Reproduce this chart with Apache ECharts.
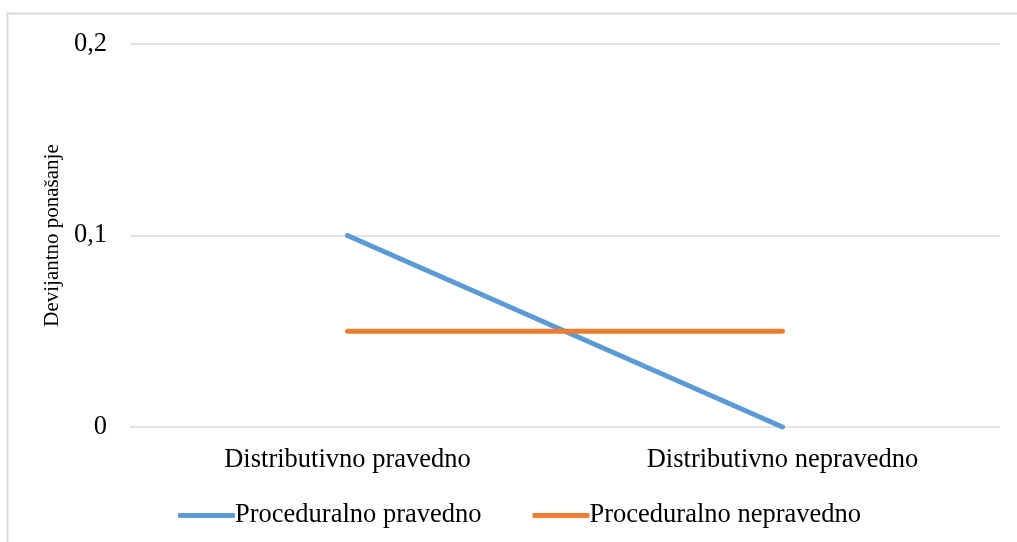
<!DOCTYPE html>
<html><head><meta charset="utf-8">
<script src="https://cdn.jsdelivr.net/npm/echarts@6/dist/echarts.min.js"></script>
<style>html,body{margin:0;padding:0;background:#fff}#c{width:1017px;height:542px}</style>
</head><body><div id="c"></div>
<script>
const categories = ["Distributivno pravedno", "Distributivno nepravedno"];
const seriesNames = ["Proceduralno pravedno", "Proceduralno nepravedno"];
const pravedno = [0.1, 0];
const nepravedno = [0.05, 0.05];
const yAxisName = "Devijantno ponašanje";
const yTicks = {min: 0, max: 0.2, interval: 0.1};

const font = "'Liberation Serif', 'Times New Roman', serif";
const chart = echarts.init(document.getElementById('c'));
chart.setOption({
  animation: false,
  backgroundColor: '#fff',
  textStyle: {fontFamily: font},
  graphic: [{type: 'rect', shape: {x: 7.5, y: 13.5, width: 1100, height: 600}, style: {fill: 'none', stroke: '#d9d9d9', lineWidth: 2}, silent: true}],
  grid: {left: 130, right: 17, top: 44, bottom: 115, containLabel: false},
  legend: {
    top: 497, left: 173, itemWidth: 57, itemHeight: 5, itemGap: 51,
    icon: 'roundRect',
    textStyle: {fontFamily: font, fontSize: 26.5, color: '#000', padding: [0,0,0,-5]},
    data: seriesNames
  },
  xAxis: {
    type: 'category', data: categories, boundaryGap: true,
    axisLine: {show: false}, axisTick: {show: false},
    axisLabel: {fontFamily: font, fontSize: 26.5, color: '#000', margin: 20}
  },
  yAxis: {
    type: 'value', min: yTicks.min, max: yTicks.max, interval: yTicks.interval,
    name: yAxisName, nameLocation: 'middle', nameGap: 65, nameRotate: 90,
    nameTextStyle: {fontFamily: font, fontSize: 21, color: '#000'},
    axisLabel: {fontFamily: font, fontSize: 26.5, color: '#000', margin: 23, formatter: v => String(Math.round(v*10)/10).replace('.', ',')},
    splitLine: {lineStyle: {color: '#d9d9d9', width: 1.5}},
    axisLine: {show: false}, axisTick: {show: false}
  },
  series: [
    {name: seriesNames[0], type: 'line', data: pravedno, symbol: 'none', lineStyle: {width: 5, color: '#5B9BD5', cap: 'round'}, itemStyle: {color: '#5B9BD5'}},
    {name: seriesNames[1], type: 'line', data: nepravedno, symbol: 'none', lineStyle: {width: 5, color: '#ED7D31', cap: 'round'}, itemStyle: {color: '#ED7D31'}}
  ]
});
</script></body></html>
